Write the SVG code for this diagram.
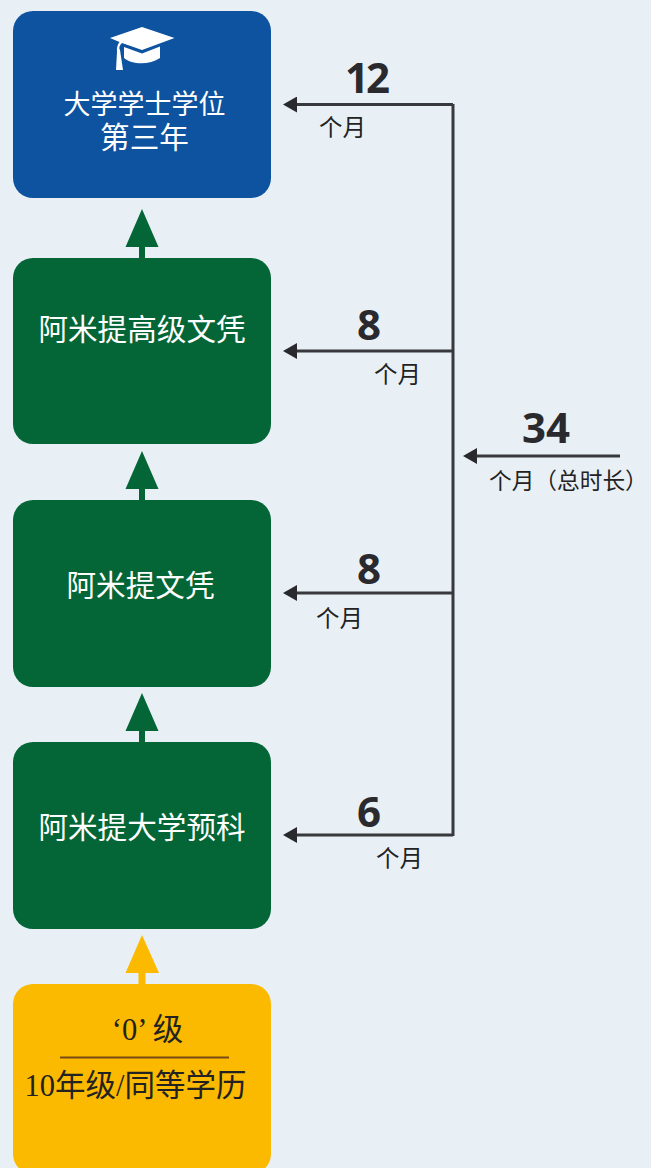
<svg xmlns="http://www.w3.org/2000/svg" width="651" height="1168" viewBox="0 0 651 1168">
<style>
.cn{font-family:"Noto Sans CJK SC","Liberation Serif",serif;text-anchor:middle}
.w{fill:#fff;font-size:29.600px}
.u{fill:#222;font-size:23.500px;text-anchor:start}
.n{font-family:"Open Sans","Noto Sans",sans-serif;font-weight:700;font-size:42px;fill:#2a2a2e;text-anchor:middle}
.k{font-family:"Liberation Serif","Noto Sans CJK SC",serif;fill:#222;text-anchor:middle;font-size:30.500px}
.l{stroke:#38393d;stroke-width:3;fill:none}
.g{fill:#046637}
.y{fill:#fbb900}
</style>
<defs>
<marker id="a" markerUnits="userSpaceOnUse" markerWidth="14" markerHeight="16" refX="11" refY="8" orient="auto"><path d="M0 0L14 8L0 16Z" fill="#2a2a2e"/></marker>
</defs>
<rect width="651" height="1168" fill="#e9f0f5"/>
<g id="connectors">
<path class="g" d="M142 209L158.500 247H145V260H139V247H125.500Z"/>
<path class="g" d="M142 451L158.500 489H145V502H139V489H125.500Z"/>
<path class="g" d="M142 693L158.500 731H145V744H139V731H125.500Z"/>
<path class="y" d="M142 935L159 973H145.500V986H138.500V973H125.500Z"/>
<path class="l" d="M453 104V836"/>
<path class="l" d="M453 104.500H286" marker-end="url(#a)"/>
<path class="l" d="M453 351H286" marker-end="url(#a)"/>
<path class="l" d="M453 593H286" marker-end="url(#a)"/>
<path class="l" d="M453 835H286" marker-end="url(#a)"/>
<path class="l" d="M620 456H466" marker-end="url(#a)"/>
</g>
<g id="node-degree">
<rect x="13" y="11" width="258" height="187" rx="20" fill="#0d53a0"/>
<path fill="#fff" d="M142 27L174.500 38L142 50L122 43C119.500 45.500 118.500 48 120 50L123 70H116L117 52C116.500 48 117.500 44.500 119.500 42L110 38Z"/>
<path fill="#fff" d="M124 47L142 53.500L160 46.500V58C150 65 132 65 124 58Z"/>
<text class="cn w" style="font-size:27px" x="144.500" y="114">大学学士学位</text>
<text class="cn w" x="144.500" y="148">第三年</text>
</g>
<g id="node-advanced">
<rect class="g" x="13" y="258" width="258" height="186" rx="20"/>
<text class="cn w" x="142" y="340">阿米提高级文凭</text>
</g>
<g id="node-diploma">
<rect class="g" x="13" y="500" width="258" height="187" rx="20"/>
<text class="cn w" x="140.500" y="596">阿米提文凭</text>
</g>
<g id="node-foundation">
<rect class="g" x="13" y="742" width="258" height="187" rx="20"/>
<text class="cn w" x="142" y="838">阿米提大学预科</text>
</g>
<g id="node-entry">
<rect class="y" x="13" y="984" width="258" height="190" rx="20"/>
<text class="k" x="147.500" y="1040">‘0’ 级</text>
<path d="M60 1057.500H229" stroke="#7a4a14" stroke-width="2"/>
<text class="k" x="135.500" y="1096">10年级/同等学历</text>
</g>
<g id="labels">
<text class="n" x="366" y="93" letter-spacing="-3">12</text>
<text class="cn u" x="319" y="136">个月</text>
<text class="n" x="369" y="340">8</text>
<text class="cn u" x="374" y="383">个月</text>
<text class="n" x="369" y="584">8</text>
<text class="cn u" x="316" y="627">个月</text>
<text class="n" x="369" y="827">6</text>
<text class="cn u" x="376" y="867">个月</text>
<text class="n" x="546" y="443">34</text>
<text class="cn u" style="font-size:22.700px" x="489" y="489">个月（总时长）</text>
</g>
</svg>
